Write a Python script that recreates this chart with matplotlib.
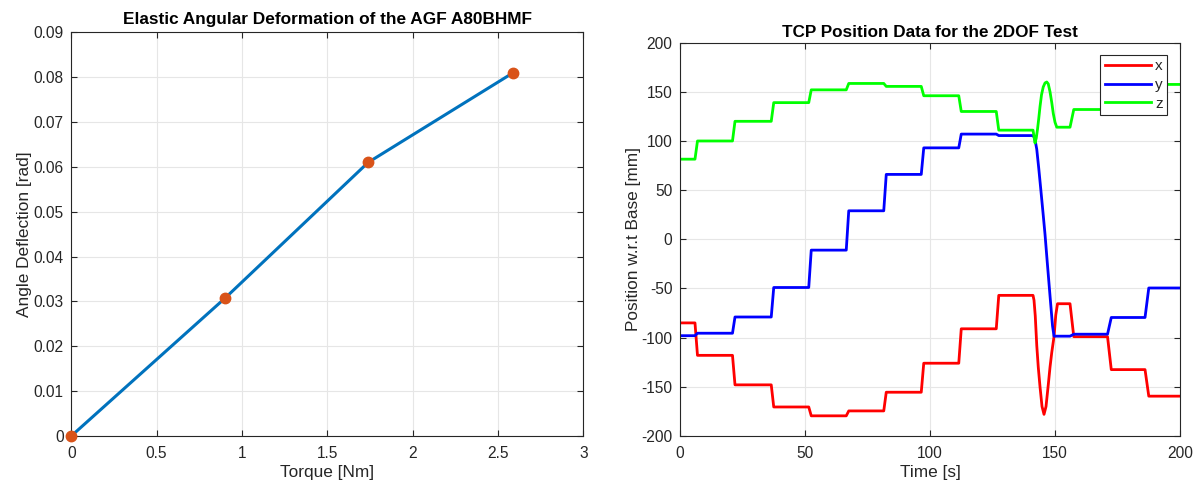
import matplotlib
matplotlib.use("Agg")
import matplotlib.pyplot as plt

plt.rcParams["font.family"] = ["Liberation Sans", "DejaVu Sans"]
plt.rcParams["axes.unicode_minus"] = False

# left: elastic deformation
torque = [0.0, 0.9, 1.74, 2.59]
deflection = [0.0, 0.0307, 0.061, 0.081]

# right: TCP position, step times shared by all three axes
step_times = [6, 21, 36.5, 51.5, 66.5, 81.5, 96.5, 111.5, 126.5, 141.2]
late_steps = [156, 171, 186]
ramp = 1.0

x_levels = [-85, -118, -148, -170.5, -179.5, -174.5, -155.5, -126, -91, -57]
y_levels = [-98, -95.5, -79, -49, -11, 29, 66, 93, 107, 105.5]
z_levels = [81.5, 100, 120, 139, 152, 158.5, 155.5, 146, 130, 111]

# fast move around t=142..151
x_swing_t = [141.6, 142.1, 142.7, 143.3, 144.0, 144.8, 145.6, 146.4, 147.3,
             148.0, 148.7, 149.6, 150.3, 151.0]
x_swing_v = [-62, -78, -108, -130, -150, -170, -178, -170, -148,
             -130, -115, -99, -77, -65.5]
y_swing_t = [141.6, 142.1, 142.7, 143.5, 144.3, 145.2, 146.0, 146.9, 148.0,
             149.0, 149.6]
y_swing_v = [104, 100, 91.5, 72, 51, 27, 5, -23.5, -57.5, -88, -98.5]
z_swing_t = [141.7, 142.0, 142.5, 143.0, 143.5, 144.0, 144.6, 145.3, 146.0,
             146.7, 147.3, 148.0, 148.7, 149.3, 150.0, 150.7]
z_swing_v = [103, 98, 103, 112, 123, 135, 147, 155, 159,
             160, 158, 150, 139, 128, 119, 114]

x_late = [-65.5, -99, -132.5, -159.5]
y_late = [-98.5, -96.5, -79.5, -49.5]
z_late = [114, 132, 146, 157.5]


def build(levels, swing_t, swing_v, late):
    t = [0.0]
    v = [levels[0]]
    for i, ts in enumerate(step_times):
        t.append(ts)
        v.append(levels[i])
        if i + 1 < len(levels):
            t.append(ts + ramp)
            v.append(levels[i + 1])
    t += swing_t
    v += swing_v
    for i, ts in enumerate(late_steps):
        t.append(ts)
        v.append(late[i])
        t.append(ts + ramp * 1.5)
        v.append(late[i + 1])
    t.append(200)
    v.append(late[-1])
    return t, v


dark = "#262626"


def style(ax):
    ax.grid(True, color="#e6e6e6", linewidth=0.8)
    ax.set_axisbelow(True)
    ax.tick_params(direction="in", top=True, right=True, colors=dark,
                   labelsize=11.2, length=4)
    ax.tick_params(axis="x", pad=7)
    ax.tick_params(axis="y", pad=5.5)
    for s in ax.spines.values():
        s.set_color(dark)
        s.set_linewidth(0.8)


fig = plt.figure(figsize=(11.94, 4.84), dpi=100)

ax1 = fig.add_axes([0.0597, 0.0992, 0.4288, 0.8341])
ax1.plot(torque, deflection, color="#0072BD", linewidth=2.2)
ax1.plot(torque, deflection, "o", color="#D95319", markersize=7.5,
         clip_on=False, zorder=5)
ax1.set_xlim(0, 3)
ax1.set_ylim(0, 0.09)
ax1.set_xticks([0, 0.5, 1, 1.5, 2, 2.5, 3])
ax1.set_xticklabels(["0", "0.5", "1", "1.5", "2", "2.5", "3"])
ax1.set_yticks([i / 100 for i in range(10)])
ax1.set_yticklabels(["0"] + ["%.2f" % (i / 100) for i in range(1, 10)])
ax1.set_xlabel("Torque [Nm]", fontsize=12.4, color=dark, labelpad=3)
ax1.set_ylabel("Angle Deflection [rad]", fontsize=12.4, color=dark, labelpad=1)
ax1.set_title("Elastic Angular Deformation of the AGF A80BHMF",
              fontsize=12.4, fontweight="bold", pad=6)
style(ax1)

ax2 = fig.add_axes([0.5695, 0.0992, 0.4188, 0.8127])
for lev, st, sv, late, col, lab in [
    (x_levels, x_swing_t, x_swing_v, x_late, "#FF0000", "x"),
    (y_levels, y_swing_t, y_swing_v, y_late, "#0000FF", "y"),
    (z_levels, z_swing_t, z_swing_v, z_late, "#00FF00", "z"),
]:
    t, v = build(lev, st, sv, late)
    ax2.plot(t, v, color=col, linewidth=2, label=lab)
ax2.set_xlim(0, 200)
ax2.set_ylim(-200, 200)
ax2.set_xticks([0, 50, 100, 150, 200])
ax2.set_yticks(range(-200, 201, 50))
ax2.set_xlabel("Time [s]", fontsize=12.4, color=dark, labelpad=3)
ax2.set_ylabel("Position w.r.t Base [mm]", fontsize=12.4, color=dark,
               labelpad=0)
ax2.set_title("TCP Position Data for the 2DOF Test",
              fontsize=12.3, fontweight="bold", pad=4)
style(ax2)
leg = ax2.legend(loc="upper right", bbox_to_anchor=(0.9746, 0.969),
                 borderaxespad=0, fancybox=False, framealpha=1,
                 edgecolor=dark, fontsize=11, handlelength=3.0,
                 handletextpad=0.3, labelspacing=0.3, borderpad=0.3)
leg.get_frame().set_linewidth(0.8)
for txt in leg.get_texts():
    txt.set_color(dark)

fig.savefig("out.png", dpi=100)
